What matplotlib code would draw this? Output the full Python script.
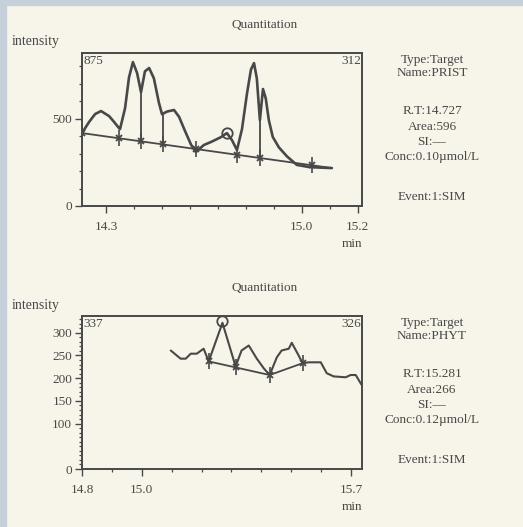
import numpy as np
import matplotlib
matplotlib.use("Agg")
import matplotlib.pyplot as plt

W, H = 523, 527
PAPER = "#f7f4ea"
EDGE = "#c6d0da"
INK = "#484848"

# --- PRIST (top) ---
prist_t = [14.214, 14.239, 14.261, 14.282, 14.311, 14.329, 14.346, 14.350, 14.368, 14.382,
           14.396, 14.411, 14.425, 14.439, 14.454, 14.471, 14.489, 14.500, 14.518, 14.543,
           14.561, 14.582, 14.604, 14.621, 14.650, 14.675, 14.711, 14.732, 14.750, 14.768,
           14.786, 14.804, 14.818, 14.829, 14.839, 14.850, 14.861, 14.871, 14.882, 14.896,
           14.918, 14.946, 14.982, 15.025, 15.061, 15.107]
prist_i = [417, 480, 526, 543, 514, 480, 446, 440, 560, 735,
           823, 760, 651, 770, 789, 730, 590, 525, 540, 549,
           510, 430, 350, 309, 349, 366, 394, 417, 377, 320,
           440, 645, 780, 817, 730, 491, 669, 615, 490, 395,
           335, 285, 235, 223, 220, 217]
prist_base_t = [14.214, 15.107]
prist_base_i = [417, 217]
prist_marks = [14.214, 14.346, 14.425, 14.504, 14.621, 14.768, 14.850, 15.036]
prist_drops = [14.425, 14.504, 14.850]
prist_rt = (14.732, 417)
prist_info = ["Type:Target", "Name:PRIST", "R.T:14.727", "Area:596", "SI:\u2014",
              "Conc:0.10\u00b5mol/L", "Event:1:SIM"]

# --- PHYT (bottom) ---
phyt_t = [15.097, 15.130, 15.147, 15.164, 15.184, 15.207, 15.224, 15.270, 15.314, 15.334,
          15.358, 15.385, 15.408, 15.428, 15.452, 15.468, 15.492, 15.502, 15.525, 15.538,
          15.559, 15.585, 15.599, 15.619, 15.642, 15.682, 15.699, 15.716, 15.736]
phyt_i = [261, 243, 243, 254, 254, 265, 237, 322, 226, 261,
          272, 243, 222, 207, 246, 261, 265, 278, 250, 233,
          235, 235, 235, 211, 204, 202, 207, 207, 185]
phyt_base_t = [15.224, 15.428, 15.538]
phyt_base_i = [237, 207, 233]
phyt_marks = [15.224, 15.314, 15.428, 15.538]
phyt_rt = (15.270, 326)
phyt_info = ["Type:Target", "Name:PHYT", "R.T:15.281", "Area:266", "SI:\u2014",
             "Conc:0.12\u00b5mol/L", "Event:1:SIM"]

plt.rcParams['font.family'] = ['Liberation Serif', 'DejaVu Serif']

fig = plt.figure(figsize=(W / 100, H / 100), dpi=100, facecolor=PAPER)


def px(x, y):
    return x / W, 1 - y / H


def txt(x, y, s, size=9.5, ha="center"):
    fx, fy = px(x, y)
    fig.text(fx, fy, s, ha=ha, va="center", fontsize=size, color=INK)


# scan border strips
fig.patches.append(plt.Rectangle((0, 1 - 5 / H), 1, 5 / H, transform=fig.transFigure,
                                 color=EDGE, zorder=0))
fig.patches.append(plt.Rectangle((0, 0), 6 / W, 1, transform=fig.transFigure,
                                 color=EDGE, zorder=0))


def panel(top, t, i, bt, bi, marks, rt, xlim, ylim, xmaj, xmin, ymaj, ymin,
          lo, hi, info, smooth_lw):
    x0, x1 = 82, 362
    y1 = top + 153
    fl, fb = px(x0, y1)
    ax = fig.add_axes([fl, fb, (x1 - x0) / W, 153 / H])
    ax.set_facecolor(PAPER)
    ax.plot(t, i, color=INK, lw=smooth_lw, solid_joinstyle="round", solid_capstyle="round")
    ax.plot(bt, bi, color=INK, lw=1.3)
    mb = np.interp(marks, bt, bi)
    ax.plot(marks, mb, ls="none", marker="|", ms=11, mew=1.2, color=INK)
    ax.plot(marks, mb, ls="none", marker="x", ms=4, mew=1.3, color=INK)
    ax.plot(*rt, ls="none", marker="o", ms=7.5, mfc="none", mec=INK, mew=1.3)
    ax.set_xlim(*xlim)
    ax.set_ylim(*ylim)
    ax.set_xticks(xmaj)
    ax.set_xticks(xmin, minor=True)
    ax.set_xticklabels([f"{v:.1f}" for v in xmaj])
    ax.set_yticks(ymaj)
    ax.set_yticks(ymin, minor=True)
    ax.set_yticklabels([str(v) for v in ymaj])
    ax.tick_params(which="major", direction="out", length=5, width=1, color=INK,
                   labelcolor=INK, labelsize=9.5)
    ax.tick_params(which="minor", direction="out", length=2.5, width=0.9, color=INK)
    ax.tick_params(axis="x", pad=6)
    ax.tick_params(axis="y", pad=2)
    for s in ax.spines.values():
        s.set_color(INK)
        s.set_linewidth(1.4)
    txt(265, top - 28, "Quantitation")
    txt(12, top - 11, "intensity", size=10, ha="left")
    txt(93, top + 8, lo)
    txt(351, top + 8, hi)
    txt(352, top + 191, "min")
    ys = [7, 20, 58, 74, 89, 104, 144]
    for dy, s in zip(ys, info):
        txt(432, top + dy, s)
    return ax


ax1 = panel(53, prist_t, prist_i, prist_base_t, prist_base_i, prist_marks, prist_rt,
            (14.214, 15.215), (0, 875), [14.3, 15.0, 15.2],
            np.round(np.arange(14.3, 15.21, 0.1), 2), [0, 500], np.arange(0, 900, 100),
            "875", "312", prist_info, 1.9)
# drop lines from the curve to the baseline
dtop = np.interp(prist_drops, prist_t, prist_i)
dbot = np.interp(prist_drops, prist_base_t, prist_base_i)
ax1.vlines(prist_drops, dbot, dtop, color=INK, lw=1.3)

ax2 = panel(316, phyt_t, phyt_i, phyt_base_t, phyt_base_i, phyt_marks, phyt_rt,
            (14.8, 15.737), (0, 337), [14.8, 15.0, 15.7],
            np.round(np.arange(14.8, 15.71, 0.1), 2), [0, 100, 150, 200, 250, 300],
            np.arange(0, 340, 10), "337", "326", phyt_info, 1.5)

fig.savefig("out.png", dpi=100, facecolor=PAPER)
